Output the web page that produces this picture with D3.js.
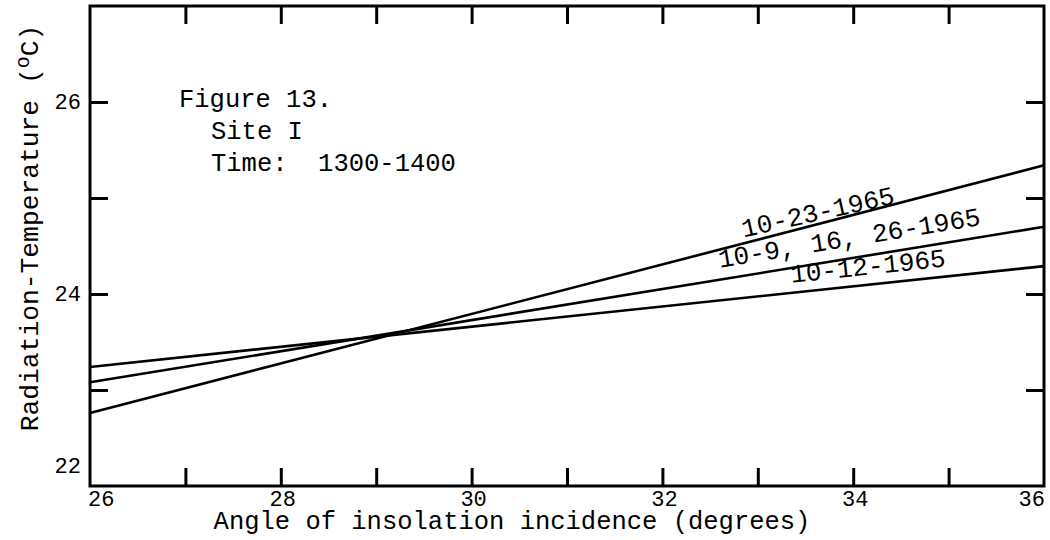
<!DOCTYPE html>
<html>
<head>
<meta charset="utf-8">
<script src="https://cdn.jsdelivr.net/npm/d3@7"></script>
<style>
  body { margin: 0; background: #fff; }
  text { font-family: "Liberation Mono", "DejaVu Sans Mono", monospace; fill: #000; }
</style>
</head>
<body>
<div id="chart"></div>
<script>
// ===== data =====
const angleEnds = [26, 36];                       // x extent of each fitted line
const temp1023 = [22.76, 25.34];                  // 10-23-1965
const temp0916 = [23.08, 24.70];                  // 10-9, 16, 26-1965
const temp1012 = [23.24, 24.29];                  // 10-12-1965
const seriesNames = ["10-23-1965", "10-9, 16, 26-1965", "10-12-1965"];
const labelAngles = [32.85, 32.6, 33.35];         // where each line label starts (degrees)

const xTickValues = [27, 28, 29, 30, 31, 32, 33, 34, 35];
const xTickLabels = [26, 28, 30, 32, 34, 36];
const yTickValues = [23, 24, 25, 26];
const yTickLabels = [22, 24, 26];

const figureLines = ["Figure 13.", "Site I", "Time:  1300-1400"];

// ===== layout =====
const width = 1050, height = 540;
const margin = { top: 6, right: 6, bottom: 54, left: 90 };
const innerWidth = width - margin.left - margin.right;
const innerHeight = height - margin.top - margin.bottom;

const svg = d3.select("#chart").append("svg")
    .attr("width", width)
    .attr("height", height);

const g = svg.append("g")
    .attr("transform", `translate(${margin.left}, ${margin.top})`);

const xScale = d3.scaleLinear().domain([26, 36]).range([0, innerWidth]);
const yScale = d3.scaleLinear().domain([22, 27]).range([innerHeight, 0]);

// ===== ticks (inward on all four sides) =====
const tickLen = 18;
const axes = [
    [d3.axisBottom(xScale).tickValues(xTickValues).tickSize(-tickLen), `translate(0, ${innerHeight})`],
    [d3.axisTop(xScale).tickValues(xTickValues).tickSize(-tickLen), null],
    [d3.axisLeft(yScale).tickValues(yTickValues).tickSize(-tickLen), null],
    [d3.axisRight(yScale).tickValues(yTickValues).tickSize(-tickLen), `translate(${innerWidth}, 0)`]
];
axes.forEach(([axis, tr]) => {
    const a = g.append("g").call(axis.tickFormat("").tickSizeOuter(0));
    if (tr) a.attr("transform", tr);
    a.select(".domain").remove();
    a.selectAll("text").remove();
    a.selectAll("line").attr("stroke", "#000").attr("stroke-width", 3);
});

// frame
g.append("rect")
    .attr("width", innerWidth)
    .attr("height", innerHeight)
    .attr("fill", "none")
    .attr("stroke", "#000")
    .attr("stroke-width", 3);

// ===== tick labels =====
g.selectAll(".xlab").data(xTickLabels).join("text")
    .attr("class", "xlab")
    .attr("x", (d, i) => xScale(d) + (i === 0 ? -2 : i === xTickLabels.length - 1 ? 1 : 2))
    .attr("y", innerHeight + 20)
    .attr("text-anchor", (d, i) => i === 0 ? "start" : i === xTickLabels.length - 1 ? "end" : "middle")
    .attr("font-size", 22)
    .text(d => d);

g.selectAll(".ylab").data(yTickLabels).join("text")
    .attr("class", "ylab")
    .attr("x", -9)
    .attr("y", (d, i) => yScale(d) + 7 - (i === 0 ? 20 : 0))
    .attr("text-anchor", "end")
    .attr("font-size", 22)
    .text(d => d);

// ===== axis titles =====
svg.append("text")
    .attr("x", 512)
    .attr("y", 529)
    .attr("text-anchor", "middle")
    .attr("font-size", 25.5)
    .text("Angle of insolation incidence (degrees)");

const yTitle = svg.append("text")
    .attr("transform", "translate(38, 228) rotate(-90)")
    .attr("text-anchor", "middle")
    .attr("font-size", 26.3);
yTitle.append("tspan").text("Radiation-Temperature (");
yTitle.append("tspan").attr("dy", -9).attr("font-size", 20).text("o");
yTitle.append("tspan").attr("dy", 9).text("C)");

// ===== fitted lines =====
const series = [temp1023, temp0916, temp1012].map((vals, i) => ({
    name: seriesNames[i],
    points: angleEnds.map((a, j) => [a, vals[j]]),
    labelAt: labelAngles[i]
}));

const line = d3.line().x(d => xScale(d[0])).y(d => yScale(d[1]));

g.selectAll(".fit").data(series).join("path")
    .attr("class", "fit")
    .attr("d", d => line(d.points))
    .attr("fill", "none")
    .attr("stroke", "#000")
    .attr("stroke-width", 2.6);

// labels written along each line
const labelLift = [6, 12, 10];
g.selectAll(".serieslab").data(series).join("text")
    .attr("class", "serieslab")
    .attr("font-size", 26)
    .attr("transform", (d, i) => {
        const [p0, p1] = d.points;
        const t = (d.labelAt - p0[0]) / (p1[0] - p0[0]);
        const yv = p0[1] + t * (p1[1] - p0[1]);
        const ang = Math.atan2(yScale(p1[1]) - yScale(p0[1]), xScale(p1[0]) - xScale(p0[0])) * 180 / Math.PI;
        return `translate(${xScale(d.labelAt)}, ${yScale(yv) - labelLift[i]}) rotate(${ang + (i === 0 ? 2 : 0)})`;
    })
    .text(d => d.name);

// ===== figure caption inside plot =====
svg.selectAll(".cap").data(figureLines).join("text")
    .attr("class", "cap")
    .attr("x", (d, i) => i === 0 ? 179 : 211)
    .attr("y", (d, i) => 107 + i * 32)
    .attr("font-size", 25.5)
    .attr("xml:space", "preserve")
    .style("white-space", "pre")
    .text(d => d);
</script>
</body>
</html>
